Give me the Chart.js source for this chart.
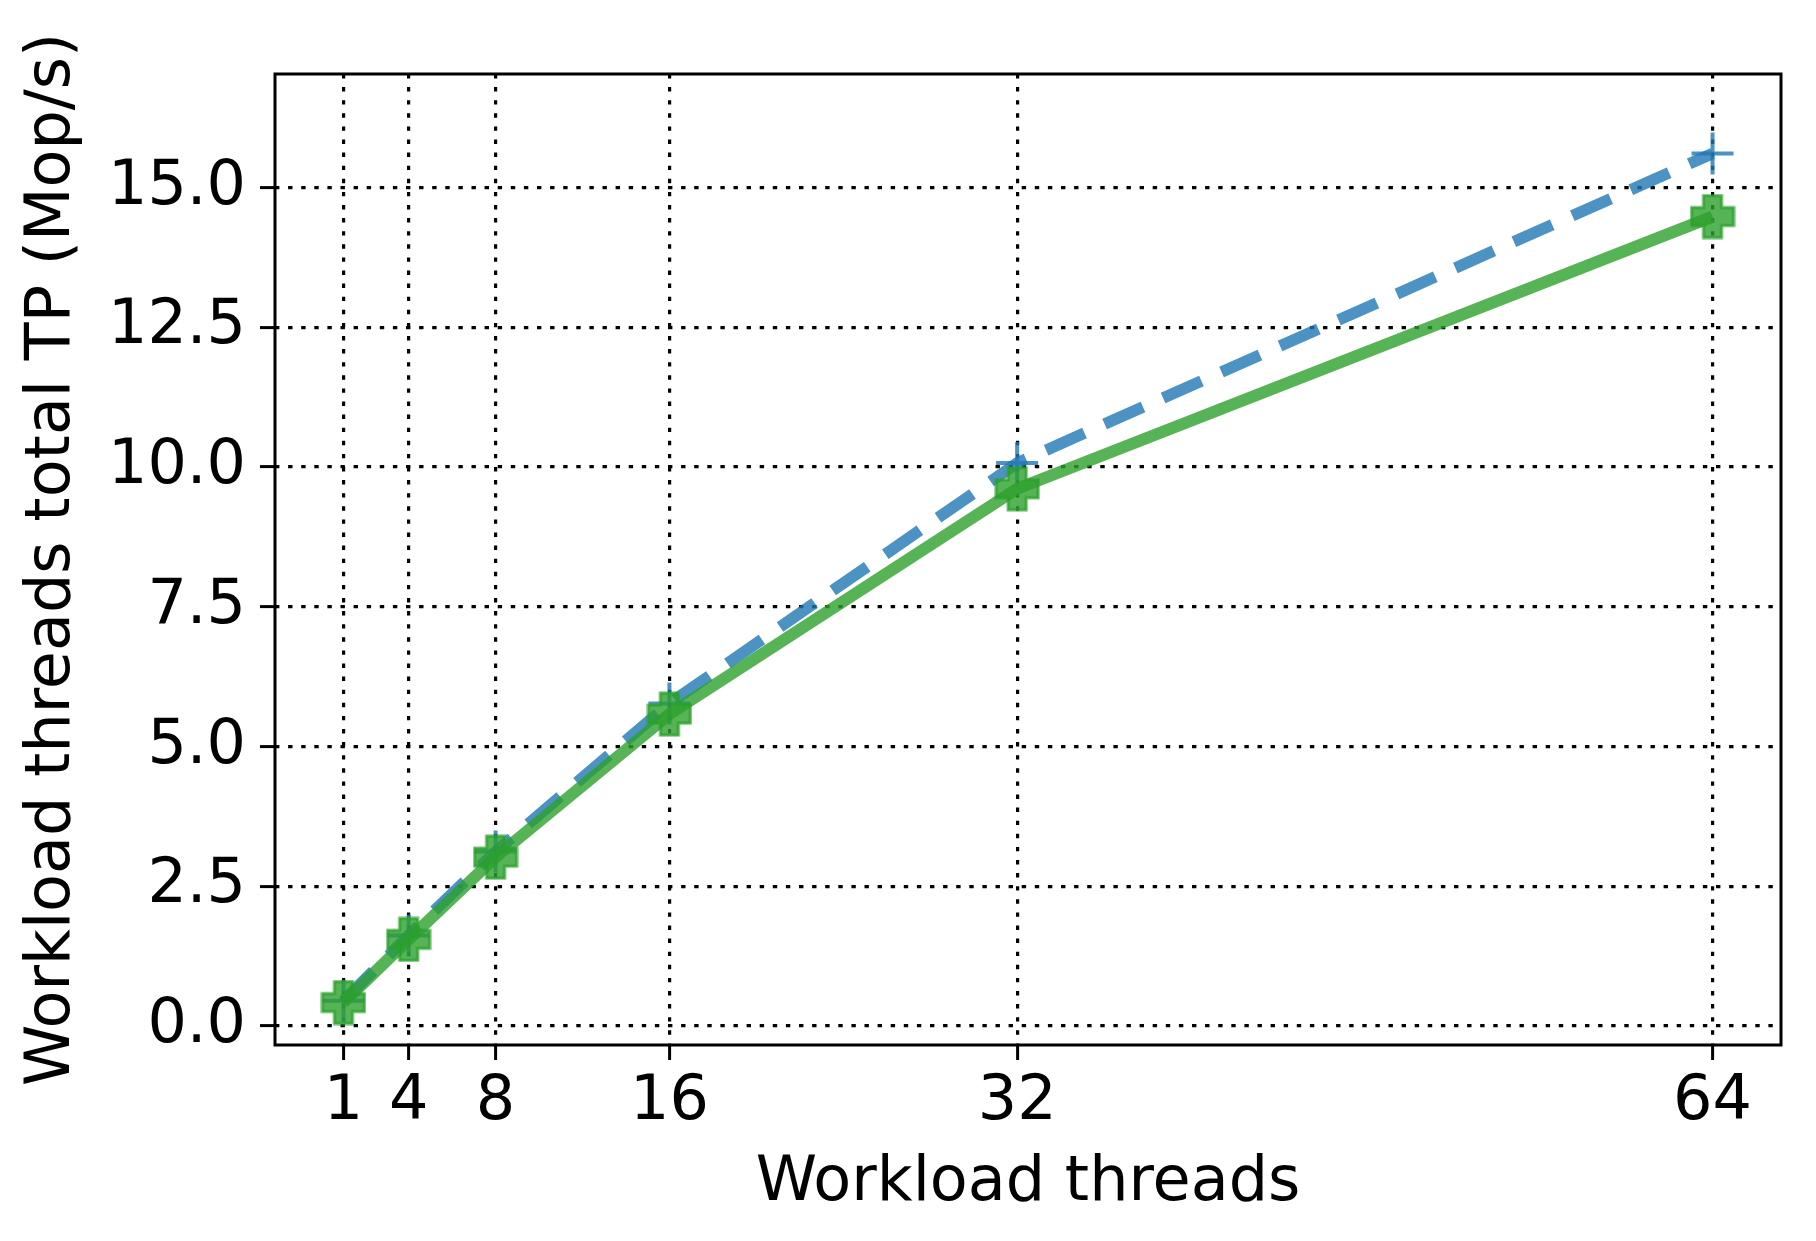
<!DOCTYPE html>
<html>
<head>
<meta charset="utf-8">
<script src="https://cdn.jsdelivr.net/npm/chart.js@4.4.0/dist/chart.umd.min.js"></script>
<style>
  body { margin: 0; background: #fff; }
  #wrap { width: 1816px; height: 1241px; }
</style>
</head>
<body>
<div id="wrap"><canvas id="tpChart" width="1816" height="1241"></canvas></div>
<script>
// 워크로드 스레드 수 vs 총 처리량
const threads = [1, 4, 8, 16, 32, 64];
const tpBlue = [0.45, 1.62, 3.12, 5.77, 10.07, 15.61];
const tpGreen = [0.42, 1.55, 3.02, 5.58, 9.61, 14.48];
const xTicks = [1, 4, 8, 16, 32, 64];
const yTicks = [0, 2.5, 5, 7.5, 10, 12.5, 15];

const FONT = 'DejaVu Sans';
const FSIZE = 62;
const blueColor = 'rgba(31, 119, 180, 0.8)';
const greenColor = 'rgba(44, 160, 44, 0.8)';

// filled plus marker (matplotlib 'P')
function makePlus(size, arm, color) {
    const c = document.createElement('canvas');
    c.width = size; c.height = size;
    const g = c.getContext('2d');
    const m = size / 2, a = arm / 2, e = size / 2 - 2;
    g.beginPath();
    g.moveTo(m - a, m - e); g.lineTo(m + a, m - e); g.lineTo(m + a, m - a);
    g.lineTo(m + e, m - a); g.lineTo(m + e, m + a); g.lineTo(m + a, m + a);
    g.lineTo(m + a, m + e); g.lineTo(m - a, m + e); g.lineTo(m - a, m + a);
    g.lineTo(m - e, m + a); g.lineTo(m - e, m - a); g.lineTo(m - a, m - a);
    g.closePath();
    g.fillStyle = color;
    g.fill();
    g.lineWidth = 3;
    g.strokeStyle = color;
    g.stroke();
    return c;
}

const frame = {
    id: 'frame',
    afterDraw(chart) {
        const { ctx, chartArea: a } = chart;
        ctx.save();
        ctx.strokeStyle = '#000';
        ctx.lineWidth = 3;
        ctx.strokeRect(a.left, a.top, a.right - a.left, a.bottom - a.top);
        ctx.restore();
    }
};

const gridOpts = {
    color: '#000',
    lineWidth: 3.2,
    drawTicks: true,
    tickLength: 15,
    tickColor: '#000',
    tickWidth: 3,
    tickBorderDash: []
};
// in v4 grid line dash comes from border.dash
const borderOpts = { display: false, dash: [4.4, 8.7] };

// keep tick label overflow from shrinking the plot area
const noPad = s => { s.paddingLeft = 0; s.paddingRight = 0; s.paddingTop = 0; s.paddingBottom = 0; };

new Chart(document.getElementById('tpChart'), {
    type: 'line',
    data: {
        datasets: [{
            data: threads.map((t, i) => ({ x: t, y: tpBlue[i] })),
            borderColor: blueColor,
            backgroundColor: 'rgba(0,0,0,0)',
            borderWidth: 11.5,
            borderDash: [42, 22],
            borderCapStyle: 'butt',
            pointStyle: 'cross',
            pointRadius: 21,
            pointBorderWidth: 4,
            pointBorderColor: blueColor,
            pointBackgroundColor: 'rgba(0,0,0,0)',
            fill: false,
            order: 2
        }, {
            data: threads.map((t, i) => ({ x: t, y: tpGreen[i] })),
            borderColor: greenColor,
            backgroundColor: greenColor,
            borderWidth: 12,
            borderCapStyle: 'butt',
            pointStyle: makePlus(46, 18, greenColor),
            pointRadius: 23,
            fill: false,
            order: 1
        }]
    },
    options: {
        responsive: false,
        animation: false,
        devicePixelRatio: 1,
        layout: { padding: { top: 74, right: 29, left: 0, bottom: 0 } },
        plugins: { legend: { display: false }, tooltip: { enabled: false } },
        scales: {
            x: {
                type: 'linear',
                min: -2.15,
                max: 67.15,
                afterBuildTicks: s => { s.ticks = xTicks.map(v => ({ value: v })); },
                afterFit: s => { s.height = 196; noPad(s); },
                afterUpdate: noPad,
                grid: gridOpts,
                border: borderOpts,
                ticks: {
                    color: '#000',
                    font: { family: FONT, size: FSIZE },
                    padding: 6,
                    maxRotation: 0,
                    autoSkip: false,
                    callback: v => String(v)
                },
                title: {
                    display: true,
                    text: 'Workload threads',
                    color: '#000',
                    font: { family: FONT, size: FSIZE },
                    padding: { top: 0, bottom: 20 }
                }
            },
            y: {
                type: 'linear',
                min: -0.34,
                max: 17.03,
                afterBuildTicks: s => { s.ticks = yTicks.map(v => ({ value: v })); },
                afterFit: s => { s.width = 275; noPad(s); },
                afterUpdate: noPad,
                grid: gridOpts,
                border: borderOpts,
                ticks: {
                    color: '#000',
                    font: { family: FONT, size: FSIZE },
                    padding: 14,
                    autoSkip: false,
                    callback: v => v.toFixed(1)
                },
                title: {
                    display: true,
                    text: 'Workload threads total TP (Mop/s)',
                    color: '#000',
                    font: { family: FONT, size: FSIZE },
                    padding: { top: 16, bottom: 0 }
                }
            }
        }
    },
    plugins: [frame]
});
</script>
</body>
</html>
